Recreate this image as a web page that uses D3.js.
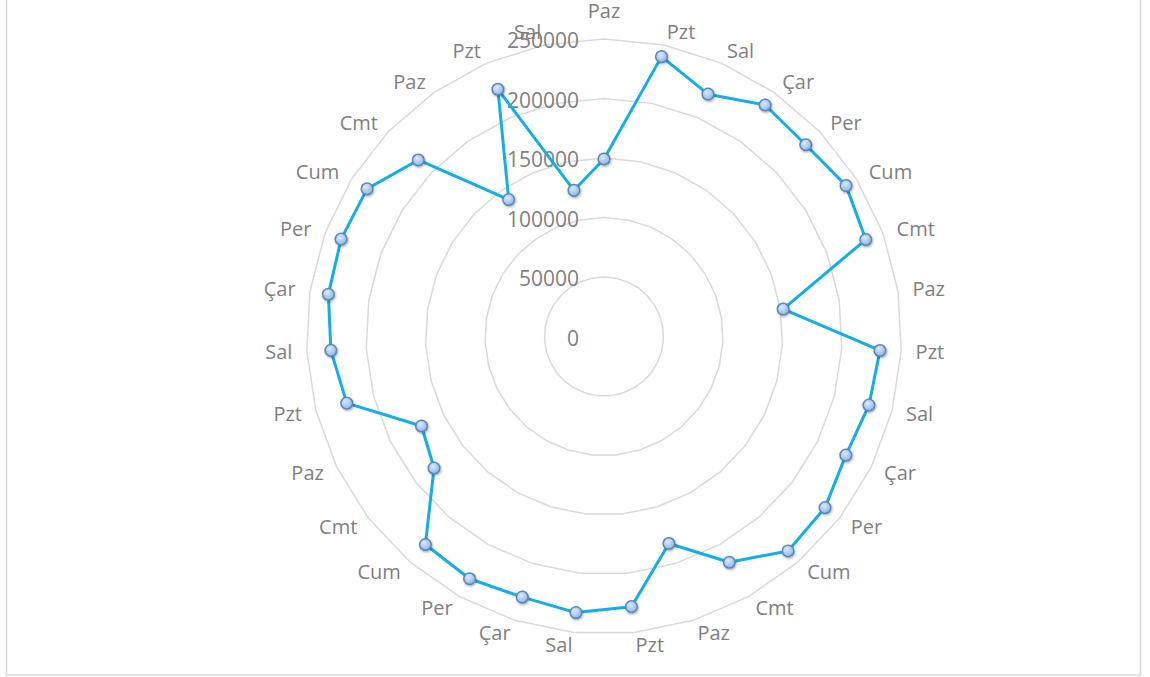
<!DOCTYPE html>
<html>
<head>
<meta charset="utf-8">
<script src="https://cdn.jsdelivr.net/npm/d3@7"></script>
<style>
  html, body { margin: 0; padding: 0; background: #fff; }
  svg { display: block; font-family: "Open Sans", "Liberation Sans", sans-serif; }
</style>
</head>
<body>
<div class="radarChart"></div>
<script>
const days = ["Paz", "Pzt", "Sal", "Çar", "Per", "Cum", "Cmt",
  "Paz", "Pzt", "Sal", "Çar", "Per", "Cum", "Cmt",
  "Paz", "Pzt", "Sal", "Çar", "Per", "Cum", "Cmt",
  "Paz", "Pzt", "Sal", "Çar", "Per", "Cum", "Cmt",
  "Paz", "Pzt", "Sal"];

const values = [149200, 240100, 221600, 237000, 233900, 239700, 234600,
  152300, 232200, 230000, 226400, 234900, 237500, 217000,
  182300, 228200, 233200, 229500, 232800, 230400, 180600,
  170800, 223300, 229800, 234300, 235600, 234600, 215300,
  140200, 226100, 125400];

const radialTicks = [0, 50000, 100000, 150000, 200000, 250000];

const width = 1150, height = 677;
const cx = 604, cy = 336.5, R = 297.5;

const svg = d3.select(".radarChart")
  .append("svg")
  .attr("width", width)
  .attr("height", height);

const defs = svg.append("defs");

const grad = defs.append("radialGradient")
  .attr("id", "markerFill")
  .attr("cx", "40%").attr("cy", "35%").attr("r", "65%");
grad.append("stop").attr("offset", "0%").attr("stop-color", "#dcebfc");
grad.append("stop").attr("offset", "100%").attr("stop-color", "#8db6e6");

const shadow = defs.append("filter")
  .attr("id", "shadow")
  .attr("x", "-50%").attr("y", "-50%").attr("width", "200%").attr("height", "200%");
shadow.append("feDropShadow")
  .attr("dx", 0.8).attr("dy", 1.2).attr("stdDeviation", 1)
  .attr("flood-color", "#000").attr("flood-opacity", 0.35);

// chart frame
svg.append("rect")
  .attr("x", 6.5).attr("y", -5)
  .attr("width", 1134).attr("height", 680)
  .attr("fill", "none")
  .attr("stroke", "#d9d9d9")
  .attr("stroke-width", 1.5);

const g = svg.append("g").attr("transform", `translate(${cx},${cy})`);

const r = d3.scaleLinear().domain([0, 250000]).range([0, R]);
const angle = i => i * 2 * Math.PI / days.length;

// grid polygons
const ring = d3.lineRadial()
  .angle((d, i) => angle(i))
  .radius(d => r(d))
  .curve(d3.curveLinearClosed);

g.selectAll(".grid")
  .data(radialTicks.filter(t => t > 0))
  .enter()
  .append("path")
  .attr("class", "grid")
  .attr("d", t => ring(days.map(() => t)))
  .attr("fill", "none")
  .attr("stroke", "#d9d9d9")
  .attr("stroke-width", 1.5);

// radial axis labels
g.selectAll(".tickLabel")
  .data(radialTicks)
  .enter()
  .append("text")
  .attr("class", "tickLabel")
  .attr("x", -25)
  .attr("y", t => -r(t) + 9)
  .attr("text-anchor", "end")
  .attr("font-size", 21)
  .attr("fill", "#7f7f7f")
  .text(t => t);

// category labels: start/end anchored beside the outer vertex, centred at the top
const capH = 14, pad = 14.5;
g.selectAll(".dayLabel")
  .data(days)
  .enter()
  .append("text")
  .attr("class", "dayLabel")
  .attr("font-size", 20)
  .attr("fill", "#7f7f7f")
  .text(d => d)
  .each(function (d, i) {
    const a = angle(i);
    const s = Math.sin(a), c = Math.cos(a);
    const vx = R * s, vy = -R * c;
    const t = d3.select(this);
    if (Math.abs(s) < 1e-6) {
      t.attr("text-anchor", "middle")
        .attr("x", vx)
        .attr("y", vy - 21.5 * Math.sign(c));
    } else {
      t.attr("text-anchor", s > 0 ? "start" : "end")
        .attr("x", vx + pad * s)
        .attr("y", vy - 13 * c + capH / 2);
    }
  });

// series line
const line = d3.lineRadial()
  .angle((d, i) => angle(i))
  .radius(d => r(d))
  .curve(d3.curveLinearClosed);

g.append("path")
  .datum(values)
  .attr("d", line)
  .attr("fill", "none")
  .attr("stroke", "#12aee9")
  .attr("stroke-width", 3)
  .attr("stroke-linejoin", "round");

// markers
g.selectAll(".marker")
  .data(values)
  .enter()
  .append("circle")
  .attr("class", "marker")
  .attr("cx", (d, i) => r(d) * Math.sin(angle(i)))
  .attr("cy", (d, i) => -r(d) * Math.cos(angle(i)))
  .attr("r", 5.8)
  .attr("fill", "url(#markerFill)")
  .attr("stroke", "#5a86bd")
  .attr("stroke-width", 1.5)
  .attr("filter", "url(#shadow)");
</script>
</body>
</html>
